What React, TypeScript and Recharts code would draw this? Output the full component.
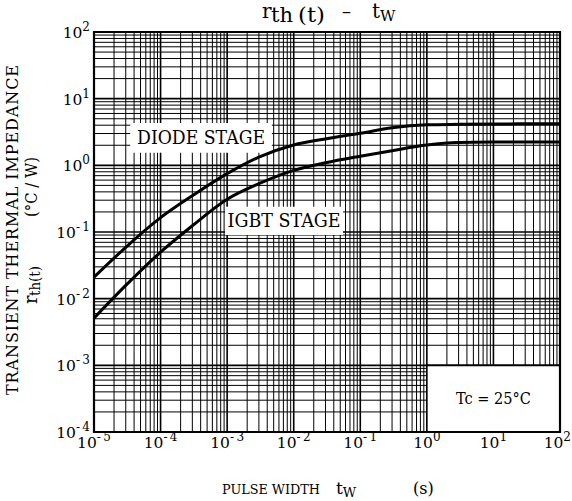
import React from 'react';
import { LineChart, Line, XAxis, YAxis, CartesianGrid, ReferenceArea } from 'recharts';

// Pulse width (s)
const pulseWidth = [1e-5, 3e-5, 1e-4, 3e-4, 1e-3, 3e-3, 1e-2, 3e-2, 1e-1, 3e-1, 1, 3, 10, 100];
// Transient thermal impedance (°C/W)
const diodeStage = [0.021, 0.059, 0.164, 0.35, 0.75, 1.33, 2.02, 2.49, 3.03, 3.66, 4.05, 4.12, 4.17, 4.2];
const igbtStage = [0.0051, 0.0158, 0.0498, 0.124, 0.31, 0.53, 0.84, 1.09, 1.37, 1.66, 2.02, 2.2, 2.23, 2.24];

const xTicks = [1e-5, 1e-4, 1e-3, 1e-2, 1e-1, 1, 10, 100];
const yTicks = [1e-4, 1e-3, 1e-2, 1e-1, 1, 10, 100];

const minorMultipliers = [2, 3, 4, 5, 6, 7, 8, 9];
const xMinor: number[] = [];
xTicks.slice(0, -1).forEach((d) => minorMultipliers.forEach((m) => xMinor.push(m * d)));
const yMinor: number[] = [];
yTicks.slice(0, -1).forEach((d) => minorMultipliers.forEach((m) => yMinor.push(m * d)));

const diodeData = pulseWidth.map((t, i) => ({ t, r: diodeStage[i] }));
const igbtData = pulseWidth.map((t, i) => ({ t, r: igbtStage[i] }));

const FONT = '"DejaVu Serif", "Liberation Serif", serif';

const expText = (v: number) => {
  const e = Math.round(Math.log10(v));
  return e < 0 ? `-\u2009${-e}` : `${e}`;
};

const XTick = (props: any) => {
  const { x, y, payload } = props;
  const last = payload.value >= 100;
  return (
    <text
      x={last ? x + 11 : x}
      y={y + 12}
      textAnchor={last ? 'end' : 'middle'}
      fontFamily={FONT}
      fontSize={15.5}
      fill="#000"
    >
      10
      <tspan dy={-7} fontSize={12}>{expText(payload.value)}</tspan>
    </text>
  );
};

const YTick = (props: any) => {
  const { x, y, payload } = props;
  return (
    <text x={x} y={y + 6} textAnchor="end" fontFamily={FONT} fontSize={15.5} fill="#000">
      10
      <tspan dy={-7} fontSize={12}>{expText(payload.value)}</tspan>
    </text>
  );
};

const Titles = () => (
  <g fontFamily={FONT} fill="#000">
    {/* chart title */}
    <text x={262} y={18} fontSize={20}>r</text>
    <text x={271} y={22} fontSize={21} textLength={22} lengthAdjust="spacingAndGlyphs">th</text>
    <text x={298} y={22} fontSize={21} textLength={27} lengthAdjust="spacingAndGlyphs">(t)</text>
    <text x={342} y={18} fontSize={18}>–</text>
    <text x={372} y={18} fontSize={20}>t<tspan dy={3} fontSize={15}>W</tspan></text>
    {/* x axis title */}
    <text x={222} y={494} fontSize={13.5} textLength={98} lengthAdjust="spacingAndGlyphs">PULSE WIDTH</text>
    <text x={336} y={494} fontSize={17}>t<tspan dy={3} fontSize={13}>W</tspan></text>
    <text x={413} y={494} fontSize={16}>(s)</text>
    {/* y axis title */}
    <g transform="translate(18,230) rotate(-90)">
      <text x={0} y={0} textAnchor="middle" fontSize={16} textLength={330} lengthAdjust="spacing">
        TRANSIENT THERMAL IMPEDANCE
      </text>
    </g>
    <g transform="translate(37,230) rotate(-90)">
      <text x={-74} y={0} fontSize={18}>r</text>
      <text x={-66} y={3} fontSize={15} textLength={30} lengthAdjust="spacingAndGlyphs">th(t)</text>
      <text x={13} y={0} fontSize={16} textLength={60} lengthAdjust="spacingAndGlyphs">(°C / W)</text>
    </g>
  </g>
);

const boxLabel = (text: string, size: number, len: number) => (props: any) => {
  const vb = props.viewBox || {};
  return (
    <text
      x={vb.x + vb.width / 2}
      y={vb.y + vb.height / 2 + size * 0.36}
      textAnchor="middle"
      fontFamily={FONT}
      fontSize={size}
      textLength={len}
      lengthAdjust="spacingAndGlyphs"
      fill="#000"
    >
      {text}
    </text>
  );
};

export default function App() {
  return (
    <div style={{ position: 'absolute', left: 0, top: 0, width: 572, height: 501, background: '#fff' }}>
      <LineChart width={572} height={501} margin={{ top: 32, right: 12, bottom: 0, left: 0 }}>
        <CartesianGrid
          stroke="#000"
          strokeWidth={1}
          horizontalValues={yMinor}
          verticalValues={xMinor}
          fill="none"
        />
        <CartesianGrid
          stroke="#000"
          strokeWidth={1.6}
          horizontalValues={yTicks}
          verticalValues={xTicks}
          fill="none"
        />
        <XAxis
          dataKey="t"
          type="number"
          scale="log"
          domain={[1e-5, 100]}
          ticks={xTicks}
          interval={0}
          allowDataOverflow
          axisLine={false}
          tickLine={false}
          tickSize={0}
          tickMargin={4}
          height={69}
          tick={<XTick />}
          label={{ content: () => <Titles /> }}
        />
        <YAxis
          dataKey="r"
          type="number"
          scale="log"
          domain={[1e-4, 100]}
          ticks={yTicks}
          interval={0}
          allowDataOverflow
          axisLine={false}
          tickLine={false}
          tickSize={0}
          tickMargin={4}
          width={94}
          tick={<YTick />}
        />
        <ReferenceArea
          x1={3.5e-5}
          x2={4.7e-3}
          y1={1.55}
          y2={4.3}
          fill="#fff"
          fillOpacity={1}
          stroke="none"
          label={{ content: boxLabel('DIODE STAGE', 18, 128) }}
        />
        <ReferenceArea
          x1={9.3e-4}
          x2={0.055}
          y1={0.09}
          y2={0.24}
          fill="#fff"
          fillOpacity={1}
          stroke="none"
          label={{ content: boxLabel('IGBT STAGE', 18, 113) }}
        />
        <ReferenceArea
          x1={1}
          x2={100}
          y1={1e-4}
          y2={1e-3}
          fill="#fff"
          fillOpacity={1}
          stroke="#000"
          strokeWidth={1.6}
          label={{ content: boxLabel('Tc = 25°C', 16, 75) }}
        />
        <ReferenceArea
          x1={1e-5}
          x2={100}
          y1={1e-4}
          y2={100}
          fill="none"
          stroke="#000"
          strokeWidth={2.2}
        />
        <Line
          data={diodeData}
          dataKey="r"
          type="monotone"
          stroke="#000"
          strokeWidth={3}
          dot={false}
          isAnimationActive={false}
        />
        <Line
          data={igbtData}
          dataKey="r"
          type="monotone"
          stroke="#000"
          strokeWidth={3}
          dot={false}
          isAnimationActive={false}
        />
      </LineChart>
    </div>
  );
}
